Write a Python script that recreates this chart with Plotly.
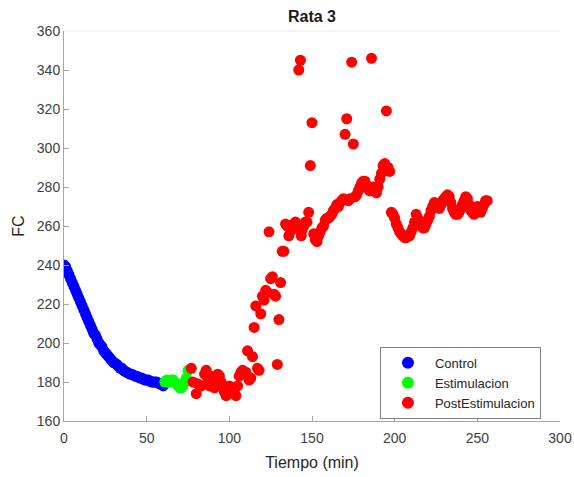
import plotly.graph_objects as go

# Control
ctrl_x = list(range(0, 61))
ctrl_y = [240, 239, 237, 235, 233, 231, 229, 227, 225, 223, 221, 219, 217, 215, 213, 211, 209, 207, 205, 204,
          202, 200, 199, 198, 196, 195, 194, 193, 192, 191, 190, 189.5, 189, 188, 187, 187, 186, 185.5, 185, 184.5,
          184, 184, 183.5, 183, 183, 182.5, 182, 182, 181.5, 181, 181, 181, 180.5, 180, 180, 180, 180, 179.5, 179, 179, 178]

# Estimulacion
est_x = [61, 62, 63, 64, 65, 66, 67, 68, 69, 70, 71, 72, 73, 74, 75]
est_y = [180, 181, 180, 180, 181, 181, 180, 179, 178, 177, 177, 178, 180, 182, 186]

# PostEstimulacion
post_x = [77, 78, 80, 81, 83, 85, 86, 87, 88, 89, 90, 91, 92, 93, 94, 95, 96, 97, 98, 99,
          100, 101, 102, 103, 104, 105, 106, 107, 108, 109, 110, 111, 112, 113, 114, 115, 116, 117, 118, 119,
          120, 121, 122, 123, 124, 125, 126, 127, 128, 129, 130, 131, 132, 133, 134, 135, 136, 137, 138, 139,
          140, 141, 142, 143, 143.5, 144, 145, 146, 147, 148, 149, 150, 151, 152, 153, 154, 155, 156, 157, 158,
          159, 160, 161, 162, 163, 164, 165, 166, 167, 168, 169, 170, 171, 172, 173, 174, 175, 176, 177, 178,
          179, 180, 181, 182, 183, 184, 185, 186, 187, 188, 189, 190, 191, 192, 193, 194, 195, 196, 197, 198,
          199, 200, 201, 202, 203, 204, 205, 206, 207, 208, 209, 210, 211, 212, 213, 214, 215, 216, 217, 218,
          219, 220, 221, 222, 223, 224, 225, 226, 227, 228, 229, 230, 231, 232, 233, 234, 235, 236, 237, 238,
          239, 240, 241, 242, 243, 244, 245, 246, 247, 248, 249, 250, 251, 252, 253, 254, 255, 256]
post_y = [187, 180, 174, 179, 178, 184, 186, 181, 178, 183, 180, 177, 182, 184, 183, 180, 178, 175, 173, 176,
          178, 177, 175, 176, 173, 178, 183, 185, 186, 184, 185, 196, 181, 182, 193, 208, 219, 187, 186, 215,
          224, 222, 227, 226, 257, 233, 234, 225, 224, 189, 212, 231, 247, 247, 261, 260, 255, 259, 258, 261,
          262, 259, 340, 345, 255, 258, 260, 262, 262, 267, 291, 313, 256, 253, 252, 255, 257, 259, 260, 263,
          264, 264, 265, 266, 268, 269, 271, 270, 272, 273, 274, 307, 315, 273, 274, 344, 302, 275, 276, 278,
          280, 282, 283, 283, 281, 279, 278, 346, 280, 278, 277, 280, 284, 287, 291, 292, 319, 290, 288, 267,
          266, 264, 261, 259, 257, 256, 255, 254, 254, 255, 255, 257, 259, 262, 266, 264, 262, 260, 259, 259,
          261, 263, 265, 268, 270, 272, 271, 270, 269, 271, 273, 274, 275, 276, 275, 272, 269, 267, 266, 266,
          267, 269, 271, 273, 275, 274, 271, 268, 267, 266, 267, 270, 268, 267, 269, 271, 273, 273]

x_ticks = [0, 50, 100, 150, 200, 250, 300]
y_ticks = [160, 180, 200, 220, 240, 260, 280, 300, 320, 340, 360]

FONT = "Liberation Sans, Arial, Helvetica, sans-serif"
MS = 11

fig = go.Figure()
fig.add_trace(go.Scatter(x=ctrl_x, y=ctrl_y, mode="markers", name="Control",
                         marker=dict(color="#0000ff", size=MS, line=dict(width=0))))
fig.add_trace(go.Scatter(x=est_x, y=est_y, mode="markers", name="Estimulacion",
                         marker=dict(color="#00ff00", size=MS, line=dict(width=0))))
fig.add_trace(go.Scatter(x=post_x, y=post_y, mode="markers", name="PostEstimulacion",
                         marker=dict(color="#ff0000", size=MS, line=dict(width=0))))

axis_common = dict(showgrid=False, zeroline=False, showline=True, linecolor="#a6a6a6", linewidth=1,
                   ticks="inside", ticklen=5, tickcolor="#a6a6a6", tickwidth=1, automargin=False,
                   tickfont=dict(family=FONT, size=14, color="#404040"))

fig.update_layout(
    width=574, height=477,
    margin=dict(l=64, r=14, t=31, b=56, autoexpand=False),
    paper_bgcolor="white", plot_bgcolor="white",
    title=dict(text="<b>Rata 3</b>", x=0.5435, xanchor="center", y=0.965, yanchor="middle",
               font=dict(family=FONT, size=16, color="#1a1a1a")),
    xaxis=dict(range=[0, 300], tickvals=x_ticks, ticklabelstandoff=4, **axis_common,
               title=dict(text="Tiempo (min)", font=dict(family=FONT, size=16, color="#262626"), standoff=12)),
    yaxis=dict(range=[160, 360], tickvals=y_ticks, **axis_common,
               title=dict(text="FC", font=dict(family=FONT, size=16, color="#262626"), standoff=8)),
    legend=dict(x=0.637, y=0.19, xanchor="left", yanchor="top", bgcolor="white",
                bordercolor="#7f7f7f", borderwidth=1, font=dict(family=FONT, size=13, color="#262626"),
                tracegroupgap=0, itemsizing="constant", itemwidth=44),
    showlegend=True,
)
fig.add_shape(type="line", xref="paper", yref="paper", x0=0, x1=1, y0=1, y1=1,
              line=dict(color="#ececec", width=1))

fig.write_html("out.html")
